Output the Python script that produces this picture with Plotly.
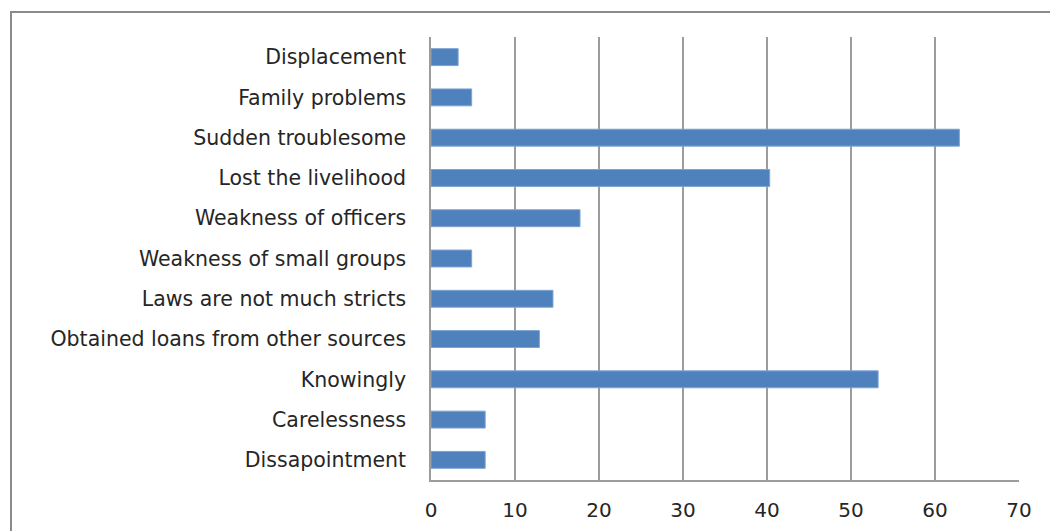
import plotly.graph_objects as go

# Reasons, listed from bottom to top of the chart
reasons = [
    "Dissapointment",
    "Carelessness",
    "Knowingly",
    "Obtained loans from other sources",
    "Laws are not much stricts",
    "Weakness of small groups",
    "Weakness of officers",
    "Lost the livelihood",
    "Sudden troublesome",
    "Family problems",
    "Displacement",
]
percent = [6.45, 6.45, 53.23, 12.90, 14.52, 4.84, 17.74, 40.32, 62.90, 4.84, 3.23]

x_ticks = [0, 10, 20, 30, 40, 50, 60, 70]

W, H = 1050, 531
L, R, T, B = 431, 31, 37, 51
pw, ph = W - L - R, H - T - B

fig = go.Figure(
    go.Bar(
        x=percent,
        y=reasons,
        orientation="h",
        marker=dict(color="#4F81BD", line=dict(color="#7EA3D3", width=1)),
        width=0.42,
        hoverinfo="x+y",
    )
)

font_family = "DejaVu Sans, sans-serif"

fig.update_layout(
    width=W,
    height=H,
    margin=dict(l=L, r=R, t=T, b=B, autoexpand=False),
    paper_bgcolor="white",
    plot_bgcolor="white",
    showlegend=False,
    font=dict(family=font_family, size=20, color="#262626"),
    xaxis=dict(
        range=[0, 70],
        tickvals=x_ticks,
        ticktext=[str(v) for v in x_ticks],
        showgrid=True,
        gridcolor="#9C9C9C",
        gridwidth=1.5,
        zeroline=False,
        showline=True,
        linecolor="#9C9C9C",
        linewidth=1.5,
        ticks="",
        ticklabelstandoff=11,
        tickfont=dict(size=20, color="#262626"),
        automargin=False,
        fixedrange=True,
    ),
    yaxis=dict(
        categoryorder="array",
        categoryarray=reasons,
        range=[-0.5, len(reasons) - 0.5],
        showgrid=False,
        zeroline=False,
        showline=True,
        linecolor="#9C9C9C",
        linewidth=1.5,
        ticks="",
        ticklabelstandoff=19,
        tickfont=dict(size=20.5, color="#262626"),
        automargin=False,
        fixedrange=True,
    ),
    shapes=[
        # outer chart frame, running off the right and bottom edges
        dict(
            type="rect",
            xref="paper",
            yref="paper",
            x0=(11 - L) / pw,
            x1=(W + 20 - L) / pw,
            y0=-(B + 20) / ph,
            y1=1 + (T - 12) / ph,
            line=dict(color="#8A8A8A", width=2),
            fillcolor="rgba(0,0,0,0)",
            layer="below",
        )
    ],
)

fig.write_html("out.html")
